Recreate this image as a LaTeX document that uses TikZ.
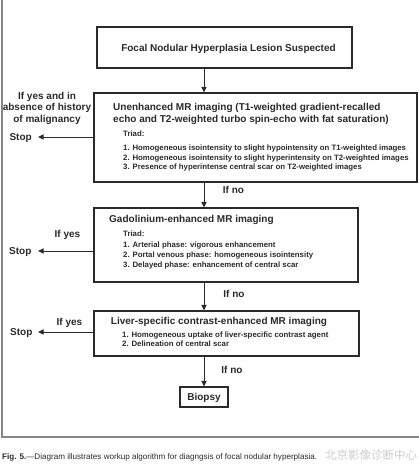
\documentclass[tikz,border=0pt]{standalone}
\usepackage{fontspec}
\setmainfont{Liberation Sans}
\newfontfamily\cjkfont{Noto Sans CJK SC}
\usetikzlibrary{arrows.meta}
\definecolor{ink}{HTML}{2A2A2A}
\definecolor{framegray}{HTML}{858585}
\tikzset{
  box/.style={draw=ink, line width=1.1pt, inner sep=0pt},
  txt/.style={text=ink, inner sep=0pt},
  ttl/.style={txt, font=\bfseries\fontsize{10}{12}\selectfont},
  itm/.style={txt, font=\bfseries\fontsize{7.8}{9.3}\selectfont},
  side/.style={txt, font=\bfseries\fontsize{10}{11.6}\selectfont},
  arr/.style={draw=ink, line width=1pt, -{Triangle[length=5.5pt,width=5pt]}}
}
\begin{document}
\begin{tikzpicture}[x=1pt,y=-1pt]
\useasboundingbox (0,0) rectangle (419,474);
% partial outer frame
\draw[framegray, line width=1.8pt] (2,-2) -- (2,437) -- (421,437);
% box 1
\node[box, minimum width=255pt, minimum height=41pt] (b1) at (224.5,47.5) {};
\node[ttl, anchor=base] (t1) at (228.5,51) {Focal Nodular Hyperplasia Lesion Suspected};
% box 2
\node[box, minimum width=323pt, minimum height=89pt] (b2) at (255.5,137.5) {};
\node[ttl, anchor=base west] (t2a) at (113,110.6) {Unenhanced MR imaging (T1-weighted gradient-recalled};
\node[ttl, anchor=base west] (t2b) at (113,122.6) {echo and T2-weighted turbo spin-echo with fat saturation)};
\node[itm, anchor=base west] (r2) at (123,136.1) {Triad:};
\node[itm, anchor=base west] (i2a) at (123,150.5) {1. Homogeneous isointensity to slight hypointensity on T1-weighted images};
\node[itm, anchor=base west] (i2b) at (123,160.1) {2. Homogeneous isointensity to slight hyperintensity on T2-weighted images};
\node[itm, anchor=base west] (i2c) at (123,169.8) {3. Presence of hyperintense central scar on T2-weighted images};
% box 3
\node[box, minimum width=264pt, minimum height=74pt] (b3) at (226,245) {};
\node[ttl, anchor=base west] (t3) at (109,222.6) {Gadolinium-enhanced MR imaging};
\node[itm, anchor=base west] (r3) at (123,236.8) {Triad:};
\node[itm, anchor=base west] (i3a) at (123,247.8) {1. Arterial phase: vigorous enhancement};
\node[itm, anchor=base west] (i3b) at (123,257.8) {2. Portal venous phase: homogeneous isointensity};
\node[itm, anchor=base west] (i3c) at (123,267.1) {3. Delayed phase: enhancement of central scar};
% box 4
\node[box, minimum width=265pt, minimum height=45pt] (b4) at (226.5,333.5) {};
\node[ttl, anchor=base] (t4) at (219,324.6) {Liver-specific contrast-enhanced MR imaging};
\node[itm, anchor=base west] (i4a) at (122,337.8) {1. Homogeneous uptake of liver-specific contrast agent};
\node[itm, anchor=base west] (i4b) at (122,346.8) {2. Delineation of central scar};
% biopsy
\node[box, minimum width=48pt, minimum height=20pt] (bio) at (204,397) {};
\node[side, anchor=base] (tb) at (204,400.6) {Biopsy};
% side labels
\node[side, anchor=base] (y2a) at (47,99.3) {If yes and in};
\node[side, anchor=base] (y2b) at (47,110.3) {absence of history};
\node[side, anchor=base] (y2c) at (47,122.6) {of malignancy};
\node[side, anchor=base west] (s2) at (9.3,140.6) {Stop};
\node[side, anchor=base] (y3) at (67.5,237.6) {If yes};
\node[side, anchor=base west] (s3) at (9,254.6) {Stop};
\node[side, anchor=base] (y4) at (69.5,325.3) {If yes};
\node[side, anchor=base west] (s4) at (10,335.6) {Stop};
\node[side, anchor=base] (n2) at (233.5,193.6) {If no};
\node[side, anchor=base] (n3) at (234,297.6) {If no};
\node[side, anchor=base] (n4) at (232,373.6) {If no};
% connectors
\coordinate (e2) at (38,137);
\coordinate (e3) at (38,251);
\coordinate (e4) at (38,332);
\draw[arr] (b1.south -| bio) -- (b2.north -| bio);
\draw[arr] (b2.south -| bio) -- (b3.north -| bio);
\draw[arr] (b3.south -| bio) -- (b4.north -| bio);
\draw[arr] (b4.south -| bio) -- (bio.north);
\draw[arr] (e2 -| b2.west) -- (e2);
\draw[arr] (e3 -| b3.west) -- (e3);
\draw[arr] (e4 -| b4.west) -- (e4);
% caption and watermark
\node[anchor=base west, inner sep=0pt, text=ink, font=\fontsize{8.1}{9}\selectfont] (cap) at (2,459) {\textbf{Fig. 5.}---Diagram illustrates workup  algorithm for diagngsis of focal nodular hyperplasia.};
\node[anchor=west, inner sep=0pt, text=black!20, font=\cjkfont\fontsize{11.5}{12}\selectfont] (wm) at (325,455.5) {北京影像诊断中心};
\end{tikzpicture}
\end{document}
